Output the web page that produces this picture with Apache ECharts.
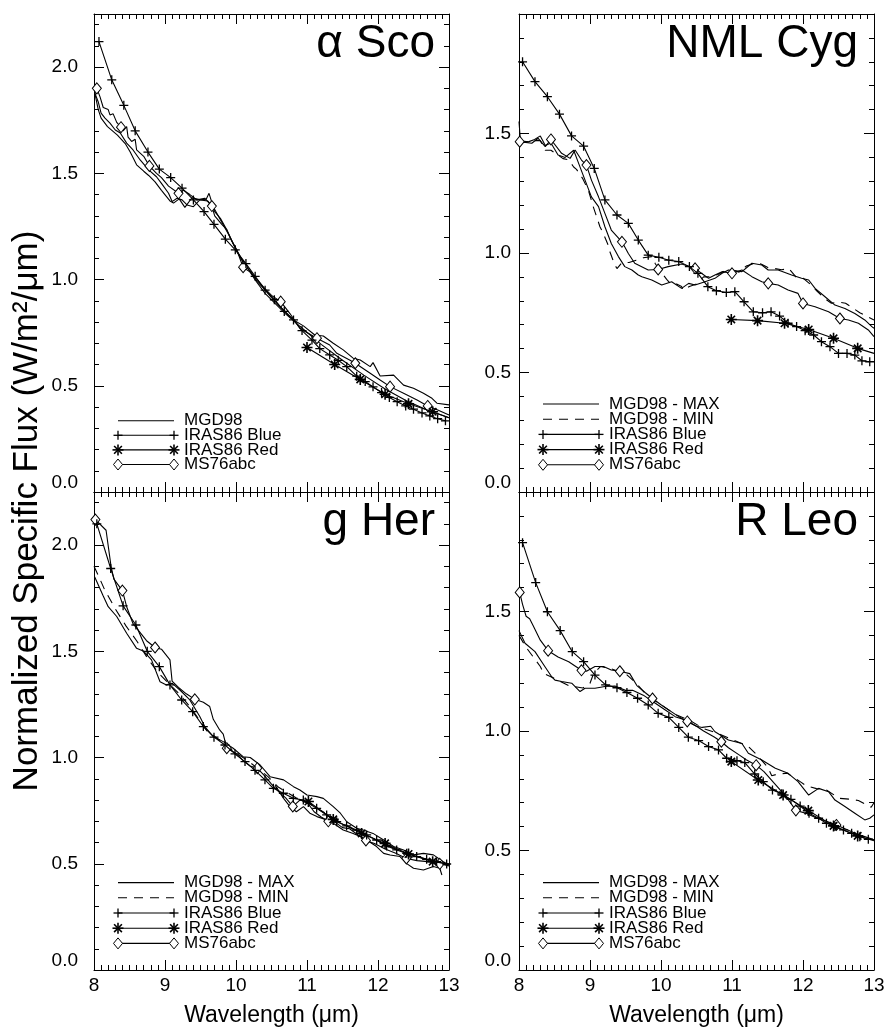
<!DOCTYPE html>
<html>
<head>
<meta charset="utf-8">
<script src="https://cdn.jsdelivr.net/npm/echarts@6/dist/echarts.min.js"></script>
<style>
html, body { margin: 0; padding: 0; background: #fff; }
#chart { width: 890px; height: 1032px; }
</style>
</head>
<body>
<div id="chart"></div>
<script>
// wavelength (um), normalized flux. On diamond lines a third value of 1 puts a marker
// on that point; on IRAS lines a third value of 0 leaves the marker off.
const scoMgd = [[8.01,1.88],[8.06,1.80],[8.1,1.76],[8.19,1.72],[8.26,1.70],[8.33,1.68],[8.44,1.64],[8.51,1.60],[8.6,1.54],[8.7,1.51],[8.77,1.49],[8.86,1.46],[8.95,1.42],[9.07,1.37],[9.12,1.36],[9.2,1.38],[9.28,1.34],[9.38,1.385],[9.5,1.375],[9.6,1.37],[9.7,1.33],[9.8,1.27],[9.9,1.21],[10.0,1.14],[10.1,1.08],[10.2,1.04],[10.3,0.99],[10.4,0.955],[10.5,0.915],[10.6,0.88],[10.67,0.857],[10.81,0.81],[10.95,0.782],[11.11,0.739],[11.23,0.734],[11.37,0.70],[11.51,0.669],[11.65,0.63],[11.75,0.621],[11.89,0.59],[11.93,0.609],[12.03,0.546],[12.22,0.55],[12.36,0.503],[12.5,0.488],[12.64,0.465],[12.76,0.441],[12.83,0.418],[13.0,0.41]];
const scoMs76b = [[8.01,1.88],[8.06,1.836],[8.1,1.783],[8.155,1.76],[8.225,1.736],[8.3,1.704],[8.37,1.69],[8.46,1.642],[8.55,1.61],[8.65,1.563],[8.77,1.516],[8.88,1.484],[8.95,1.453],[9.05,1.406],[9.10,1.367],[9.17,1.383],[9.24,1.375],[9.31,1.351],[9.4,1.343],[9.49,1.375],[9.58,1.378],[9.62,1.406],[9.70,1.32],[9.78,1.288],[9.87,1.234],[9.96,1.17],[10.06,1.108],[10.15,1.06],[10.27,0.998],[10.41,0.935],[10.55,0.888],[10.69,0.841],[10.9,0.78],[11.2,0.695],[11.5,0.62],[11.8,0.55],[12.1,0.485],[12.4,0.43],[12.7,0.385],[13.0,0.35]];
const scoMs76 = [[8.04,1.90,1],[8.085,1.86],[8.13,1.81],[8.2,1.80],[8.225,1.775],[8.27,1.78],[8.32,1.74],[8.38,1.717,1],[8.41,1.70],[8.46,1.72],[8.48,1.67],[8.53,1.65],[8.58,1.66],[8.6,1.61],[8.7,1.58],[8.78,1.535,1],[8.88,1.50],[8.95,1.48],[9.05,1.44],[9.19,1.406,1],[9.26,1.42],[9.35,1.40],[9.45,1.375],[9.56,1.383],[9.66,1.346,1],[9.70,1.30],[9.80,1.26],[9.87,1.235],[9.92,1.195],[10.01,1.14],[10.10,1.058,1],[10.2,1.035],[10.3,1.0],[10.4,0.96],[10.5,0.925],[10.63,0.896,1],[10.76,0.84],[10.9,0.77],[11.14,0.724,1],[11.32,0.692],[11.42,0.653],[11.6,0.621],[11.68,0.606,1],[11.89,0.559],[12.03,0.527],[12.17,0.496,1],[12.36,0.465],[12.55,0.433],[12.7,0.405,1],[12.85,0.385],[13.0,0.362]];
const scoBlue = [[8.07,2.12],[8.25,1.94],[8.42,1.82],[8.58,1.70],[8.76,1.60],[8.92,1.52],[9.08,1.48],[9.24,1.43],[9.40,1.375],[9.55,1.32],[9.69,1.26],[9.85,1.19],[9.99,1.14],[10.14,1.075],[10.27,1.015],[10.41,0.95],[10.54,0.905],[10.68,0.85],[10.81,0.81],[10.93,0.76],[11.07,0.715],[11.18,0.675],[11.32,0.645],[11.44,0.62],[11.56,0.59],[11.7,0.545],[11.82,0.52],[11.93,0.495],[12.05,0.468],[12.16,0.445],[12.27,0.425],[12.39,0.405],[12.5,0.39],[12.62,0.372],[12.73,0.358],[12.84,0.345],[12.95,0.335]];
const scoRed = [[11.0,0.68],[11.39,0.60],[11.75,0.53],[12.1,0.46],[12.43,0.415],[12.77,0.378],[13.0,0.35,0]];

const nmlMax = [[8.0,1.55],[8.02,1.47],[8.13,1.465],[8.22,1.475],[8.3,1.49],[8.37,1.45],[8.45,1.46],[8.55,1.41],[8.65,1.40],[8.77,1.43],[8.84,1.375],[8.93,1.305],[9.02,1.235],[9.12,1.194],[9.21,1.11],[9.3,1.04],[9.4,0.985],[9.49,0.943],[9.59,0.929],[9.68,0.908],[9.73,0.901],[9.87,0.887],[10.01,0.866],[10.15,0.88],[10.29,0.852],[10.39,0.873],[10.48,0.866],[10.62,0.88],[10.76,0.894],[10.86,0.915],[10.95,0.929],[11.14,0.922],[11.28,0.957],[11.42,0.95],[11.51,0.929],[11.65,0.929],[11.84,0.908],[11.98,0.894],[12.08,0.887],[12.17,0.852],[12.31,0.817],[12.45,0.782],[12.59,0.768],[12.73,0.747],[12.87,0.72],[12.97,0.692],[13.0,0.685]];
const nmlMin = [[8.0,1.46],[8.1,1.465],[8.2,1.47],[8.3,1.47],[8.37,1.43],[8.45,1.43],[8.55,1.41],[8.62,1.395],[8.7,1.39],[8.77,1.36],[8.81,1.35],[8.9,1.31],[8.98,1.26],[9.05,1.19],[9.14,1.11],[9.19,1.08],[9.26,1.03],[9.28,1.005],[9.35,0.95],[9.38,0.935],[9.45,0.96],[9.55,0.96],[9.65,0.97],[9.75,0.98],[9.87,0.985],[9.92,0.955],[10.0,0.92],[10.08,0.89],[10.15,0.866],[10.22,0.87],[10.29,0.86],[10.31,0.845],[10.4,0.86],[10.5,0.87],[10.6,0.9],[10.7,0.9],[10.8,0.91],[10.9,0.925],[11.0,0.93],[11.1,0.92],[11.2,0.945],[11.3,0.955],[11.4,0.955],[11.5,0.94],[11.6,0.935],[11.7,0.93],[11.8,0.935],[11.9,0.90],[12.0,0.895],[12.1,0.87],[12.2,0.84],[12.3,0.81],[12.4,0.79],[12.5,0.795],[12.6,0.79],[12.7,0.77],[12.8,0.75],[12.9,0.735],[13.0,0.72]];
const nmlMs76 = [[8.01,1.466,1],[8.18,1.459],[8.27,1.48],[8.37,1.445],[8.45,1.475,1],[8.6,1.417],[8.72,1.396],[8.79,1.431],[8.88,1.389],[8.95,1.368,1],[9.02,1.305],[9.12,1.235],[9.21,1.166],[9.3,1.096],[9.45,1.047,1],[9.54,0.998],[9.63,0.957],[9.82,0.929],[9.96,0.931,1],[10.1,0.943],[10.29,0.954],[10.48,0.936,1],[10.57,0.915],[10.67,0.894],[10.76,0.908],[10.86,0.922],[11.0,0.915,1],[11.14,0.929],[11.28,0.901],[11.42,0.88],[11.51,0.873,1],[11.65,0.866],[11.79,0.845],[11.93,0.831],[12.0,0.789,1],[12.17,0.775],[12.36,0.754],[12.52,0.726,1],[12.64,0.72],[12.78,0.706],[12.92,0.678],[13.0,0.65]];
const nmlBlue = [[8.05,1.80],[8.225,1.717],[8.40,1.654],[8.57,1.581],[8.74,1.49],[8.91,1.447],[9.06,1.354],[9.21,1.222],[9.38,1.159],[9.54,1.124],[9.68,1.054],[9.82,0.991],[9.97,0.982],[10.11,0.97],[10.25,0.964],[10.4,0.943],[10.52,0.915],[10.66,0.859],[10.78,0.842],[10.92,0.835],[11.04,0.838],[11.17,0.796],[11.3,0.754],[11.43,0.75],[11.55,0.754],[11.67,0.736],[11.79,0.706],[11.91,0.692],[12.03,0.675],[12.15,0.657],[12.26,0.629],[12.38,0.608],[12.5,0.58],[12.62,0.58],[12.73,0.573],[12.83,0.549],[12.94,0.545]];
const nmlRed = [[10.99,0.722],[11.36,0.717],[11.74,0.706],[12.08,0.68],[12.43,0.643],[12.77,0.601],[13.0,0.58,0]];

const herMax = [[8.01,1.85],[8.13,1.76],[8.2,1.71],[8.32,1.664],[8.46,1.585],[8.6,1.514],[8.7,1.50],[8.81,1.46],[8.93,1.357],[9.02,1.342],[9.1,1.35],[9.21,1.318],[9.35,1.271],[9.49,1.193],[9.56,1.146],[9.68,1.099],[9.82,1.075],[9.96,1.044],[10.1,1.004],[10.2,1.0],[10.34,0.965],[10.48,0.91],[10.67,0.895],[10.81,0.863],[10.9,0.847],[11.0,0.824],[11.14,0.816],[11.23,0.808],[11.37,0.769],[11.47,0.738],[11.56,0.698],[11.7,0.667],[11.79,0.659],[11.93,0.643],[12.08,0.612],[12.22,0.581],[12.36,0.565],[12.5,0.542],[12.64,0.549],[12.78,0.542],[12.92,0.51],[13.0,0.494]];
const herMin = [[8.0,1.90],[8.07,1.85],[8.15,1.79],[8.3,1.70],[8.45,1.62],[8.6,1.55],[8.75,1.47],[8.9,1.40],[9.05,1.35],[9.2,1.30],[9.35,1.24],[9.5,1.17],[9.6,1.12],[9.7,1.10],[9.85,1.06],[10.0,1.02],[10.15,0.99],[10.3,0.95],[10.45,0.91],[10.6,0.86],[10.75,0.83],[10.9,0.80],[11.05,0.78],[11.2,0.75],[11.35,0.72],[11.5,0.69],[11.65,0.665],[11.8,0.64],[11.95,0.615],[12.1,0.59],[12.25,0.57],[12.4,0.55],[12.55,0.535],[12.7,0.52],[12.85,0.51],[13.0,0.5]];
const herMs76b = [[10.55,0.87],[10.67,0.808],[10.76,0.769],[10.85,0.745],[10.95,0.769],[11.04,0.738],[11.14,0.722],[11.28,0.706],[11.37,0.691],[11.51,0.659],[11.65,0.643],[11.75,0.628],[11.84,0.612],[11.98,0.581],[12.08,0.549],[12.17,0.541],[12.31,0.534],[12.4,0.502],[12.5,0.479],[12.64,0.471],[12.78,0.487],[12.87,0.479],[12.9,0.447]];
const herMs76 = [[8.02,2.12,1],[8.17,2.07],[8.24,1.90],[8.28,1.84],[8.40,1.786,1],[8.46,1.71],[8.55,1.63],[8.67,1.58],[8.74,1.55],[8.86,1.518,1],[8.95,1.51],[9.07,1.46],[9.10,1.36],[9.19,1.33],[9.3,1.30],[9.42,1.274,1],[9.54,1.26],[9.63,1.24],[9.68,1.18],[9.77,1.13],[9.82,1.11],[9.87,1.044,1],[10.0,1.02],[10.1,0.985],[10.2,0.96],[10.3,0.95,1],[10.4,0.915],[10.5,0.875],[10.6,0.84],[10.7,0.81],[10.8,0.77,1],[10.9,0.80],[11.0,0.79],[11.1,0.745],[11.2,0.72],[11.3,0.70,1],[11.4,0.695],[11.5,0.67],[11.6,0.665],[11.7,0.64],[11.83,0.61,1],[11.95,0.595],[12.1,0.57],[12.25,0.55],[12.4,0.525,1],[12.55,0.515],[12.7,0.51],[12.87,0.50,1],[13.0,0.49]];
const herBlue = [[8.04,2.10],[8.235,1.89],[8.41,1.714],[8.59,1.624],[8.75,1.50],[8.92,1.428],[9.07,1.342],[9.235,1.271],[9.39,1.216],[9.54,1.146],[9.69,1.096],[9.845,1.059],[9.986,1.017],[10.127,0.981],[10.268,0.94],[10.408,0.895],[10.526,0.855],[10.667,0.832],[10.807,0.808],[10.948,0.8],[11.136,0.761],[11.277,0.73],[11.418,0.698],[11.558,0.678],[11.7,0.659],[11.84,0.636],[11.981,0.612],[12.122,0.584],[12.263,0.565],[12.404,0.549],[12.545,0.534],[12.685,0.521],[12.826,0.51],[12.967,0.499]];
const herRed = [[11.02,0.793],[11.37,0.709],[11.77,0.643],[12.1,0.596],[12.43,0.546],[12.77,0.51],[13.0,0.499,0]];

const leoMax = [[8.0,1.42],[8.085,1.367],[8.225,1.332],[8.366,1.269],[8.46,1.227],[8.507,1.213],[8.6,1.207],[8.742,1.2],[8.86,1.165],[8.93,1.179],[9.07,1.179],[9.21,1.186],[9.35,1.188],[9.5,1.17],[9.6,1.17],[9.75,1.15],[9.9,1.12],[10.05,1.09],[10.2,1.06],[10.35,1.045],[10.5,1.02],[10.58,1.015],[10.7,1.02],[10.76,0.997],[10.95,0.962],[11.14,0.948],[11.23,0.907],[11.42,0.879],[11.61,0.844],[11.79,0.823],[11.93,0.788],[12.08,0.732],[12.22,0.76],[12.36,0.746],[12.45,0.711],[12.59,0.684],[12.73,0.656],[12.87,0.628],[12.94,0.635],[13.0,0.649]];
const leoMin = [[8.0,1.40],[8.1,1.35],[8.2,1.31],[8.3,1.27],[8.35,1.24],[8.5,1.22],[8.7,1.19],[8.9,1.18],[9.0,1.20],[9.05,1.24],[9.15,1.27],[9.3,1.26],[9.5,1.24],[9.65,1.2],[9.8,1.15],[10.0,1.11],[10.2,1.07],[10.4,1.045],[10.6,1.01],[10.8,0.99],[11.0,0.965],[11.2,0.94],[11.23,0.935],[11.35,0.9],[11.5,0.85],[11.56,0.813],[11.65,0.82],[11.78,0.823],[11.9,0.80],[11.96,0.788],[12.05,0.77],[12.19,0.759],[12.33,0.753],[12.45,0.73],[12.52,0.718],[12.65,0.715],[12.78,0.709],[12.9,0.69],[12.96,0.681],[13.0,0.70]];
const leoMs76 = [[8.01,1.58,1],[8.05,1.53],[8.1,1.48],[8.15,1.47],[8.2,1.44],[8.3,1.38],[8.41,1.336,1],[8.55,1.31],[8.7,1.29],[8.8,1.27],[8.88,1.254,1],[8.95,1.25],[9.07,1.27],[9.19,1.27],[9.3,1.255],[9.42,1.25,1],[9.56,1.24],[9.66,1.19],[9.78,1.16],[9.88,1.136,1],[10.0,1.11],[10.15,1.08],[10.25,1.06],[10.37,1.04,1],[10.5,1.02],[10.6,1.0],[10.75,0.975],[10.85,0.955,1],[10.95,0.93],[11.1,0.9],[11.2,0.88],[11.34,0.857,1],[11.45,0.83],[11.6,0.78],[11.75,0.73],[11.9,0.668,1],[12.05,0.655],[12.2,0.635],[12.35,0.62],[12.47,0.607,1],[12.6,0.59],[12.75,0.57],[12.9,0.555],[13.0,0.545]];
const leoBlue = [[8.05,1.788],[8.235,1.621],[8.40,1.499],[8.58,1.42],[8.75,1.332],[8.91,1.29],[9.07,1.234],[9.22,1.193],[9.38,1.181],[9.52,1.161],[9.67,1.137],[9.82,1.109],[9.96,1.074],[10.11,1.057],[10.25,1.015],[10.385,0.974],[10.53,0.96],[10.67,0.935],[10.81,0.921],[10.925,0.886],[11.07,0.876],[11.18,0.868],[11.32,0.82],[11.44,0.788],[11.57,0.753],[11.7,0.737],[11.83,0.714],[11.96,0.686],[12.085,0.656],[12.22,0.635],[12.33,0.614],[12.45,0.6],[12.57,0.586],[12.685,0.572],[12.8,0.558],[12.92,0.547]];
const leoRed = [[10.99,0.872],[11.37,0.795],[11.72,0.732],[12.075,0.667],[12.43,0.603],[12.77,0.561],[13.0,0.541,0]];

const yTitle = 'Normalized Specific Flux (W/m\u00b2/\u03bcm)';
const xTitle = 'Wavelength (\u03bcm)';

const FONT = '"Liberation Sans", Arial, Helvetica, sans-serif';
const PLUS = 'path://M0,5L10,5M5,0L5,10';
const STAR = 'path://M0,5L10,5M5,0L5,10M1.6,1.6L8.4,8.4M1.6,8.4L8.4,1.6';
const DASH = [9, 7];

const maxMin = [['MGD98 - MAX', 'solid'], ['MGD98 - MIN', 'dashed'], ['IRAS86 Blue', 'plus'], ['IRAS86 Red', 'star'], ['MS76abc', 'diamond']];

const panels = [
    { title: '\u03b1 Sco', yMax: 2.25, legendY: 420.7, legendStep: 14.6,
      lines: [[scoMgd, 'solid'], [scoMs76b, 'solid'], [scoMs76, 'diamond'], [scoRed, 'star'], [scoBlue, 'plus']],
      legend: [['MGD98', 'solid'], ['IRAS86 Blue', 'plus'], ['IRAS86 Red', 'star'], ['MS76abc', 'diamond']] },
    { title: 'NML Cyg', yMax: 2.0, legendY: 404, legendStep: 15.2,
      lines: [[nmlMax, 'solid'], [nmlMin, 'dashed'], [nmlMs76, 'diamond'], [nmlRed, 'star'], [nmlBlue, 'plus']],
      legend: maxMin },
    { title: 'g Her', yMax: 2.25, legendY: 882.6, legendStep: 15.2,
      lines: [[herMax, 'solid'], [herMin, 'dashed'], [herMs76b, 'solid'], [herMs76, 'diamond'], [herRed, 'star'], [herBlue, 'plus']],
      legend: maxMin },
    { title: 'R Leo', yMax: 2.0, legendY: 882.6, legendStep: 15.2,
      lines: [[leoMax, 'solid'], [leoMin, 'dashed'], [leoMs76, 'diamond'], [leoRed, 'star'], [leoBlue, 'plus']],
      legend: maxMin }
];

const STYLES = {
    solid:   { symbol: 'none' },
    dashed:  { symbol: 'none', dash: DASH },
    plus:    { symbol: PLUS, size: 9, item: { color: '#000', borderColor: '#000', borderWidth: 1.3 }, z: 5 },
    star:    { symbol: STAR, size: 11, item: { color: '#000', borderColor: '#000', borderWidth: 1.6 }, z: 6 },
    diamond: { symbol: 'diamond', size: [9, 11], item: { color: '#fff', borderColor: '#000', borderWidth: 1 }, z: 4 }
};

const black = { color: '#000', width: 1 };
const labelStyle = { fontSize: 19, color: '#000', fontFamily: FONT };

const xAxisFor = (gi, pos, labels) => ({
    gridIndex: gi, type: 'value', position: pos, min: 8, max: 13, interval: 1,
    axisLine: { show: true, onZero: false, lineStyle: black },
    axisTick: { show: true, inside: true, length: 10, lineStyle: black },
    minorTick: { show: true, splitNumber: 10, length: 5, lineStyle: black },
    splitLine: { show: false }, minorSplitLine: { show: false },
    axisLabel: labels ? { show: true, margin: 6, ...labelStyle } : { show: false },
    name: labels ? xTitle : '', nameLocation: 'middle', nameGap: 34,
    nameTextStyle: { fontSize: 23, color: '#000', fontFamily: FONT }
});

const yAxisFor = (gi, pos, max, step, len, labelMargin) => ({
    gridIndex: gi, type: 'value', position: pos, min: 0, max, interval: step,
    axisLine: { show: step === 0.5, onZero: false, lineStyle: black },
    axisTick: { show: true, inside: true, length: len, lineStyle: black },
    splitLine: { show: false },
    axisLabel: labelMargin ? {
        show: true, margin: labelMargin, ...labelStyle,
        formatter: (v) => {
            // the panel top carries no label, only whole half-steps are labelled
            if (v > max - 1e-6 || Math.abs(v * 2 - Math.round(v * 2)) > 1e-6) return '';
            return v === 0 ? '{z|0.0}' : v.toFixed(1);
        },
        rich: { z: { ...labelStyle, padding: [0, 0, 18, 0] } }
    } : { show: false }
});

const grids = [], xAxes = [], yAxes = [], series = [], graphics = [];

const seg = (x1, y1, x2, y2, w) => ({ type: 'line', shape: { x1, y1, x2, y2 }, style: { stroke: '#000', lineWidth: w }, z: 10 });

const legendMarker = (kind, cx, cy) => {
    if (kind === 'plus') return [seg(cx - 4.5, cy, cx + 4.5, cy, 1.3), seg(cx, cy - 4.5, cx, cy + 4.5, 1.3)];
    if (kind === 'star') return [seg(cx - 5.5, cy, cx + 5.5, cy, 1.6), seg(cx, cy - 5.5, cx, cy + 5.5, 1.6),
        seg(cx - 3.9, cy - 3.9, cx + 3.9, cy + 3.9, 1.6), seg(cx - 3.9, cy + 3.9, cx + 3.9, cy - 3.9, 1.6)];
    if (kind === 'diamond') return [{ type: 'polygon', shape: { points: [[cx, cy - 5.5], [cx + 4.5, cy], [cx, cy + 5.5], [cx - 4.5, cy]] },
        style: { fill: '#fff', stroke: '#000', lineWidth: 1 }, z: 11 }];
    return [];
};

panels.forEach((p, gi) => {
    const col = gi % 2, row = Math.floor(gi / 2);
    const left = col ? 519 : 94, top = row ? 492 : 14;
    grids.push({ left, top, width: 355, height: 478, containLabel: false, outerBoundsMode: 'none' });

    xAxes.push(xAxisFor(gi, 'bottom', row === 1), xAxisFor(gi, 'top', false));
    const lm = col ? 8 : 16;
    yAxes.push(yAxisFor(gi, 'left', p.yMax, 0.5, 10, lm), yAxisFor(gi, 'left', p.yMax, 0.1, 5, 0),
               yAxisFor(gi, 'right', p.yMax, 0.5, 10, 0), yAxisFor(gi, 'right', p.yMax, 0.1, 5, 0));

    p.lines.forEach(([pts, kind]) => {
        const st = STYLES[kind];
        const data = pts.map((q) => {
            const mark = kind === 'diamond' ? q[2] === 1 : (kind === 'plus' || kind === 'star') && q[2] !== 0;
            return mark ? [q[0], q[1]] : { value: [q[0], q[1]], symbol: 'none' };
        });
        series.push({
            type: 'line', xAxisIndex: gi * 2, yAxisIndex: gi * 4, data,
            symbol: st.symbol, symbolSize: st.size || 0, showSymbol: st.symbol !== 'none',
            itemStyle: st.item || { color: '#000' },
            lineStyle: { color: '#000', width: 1.1, type: st.dash || 'solid' },
            emphasis: { disabled: true }, silent: true, animation: false, clip: true, z: st.z || 3
        });
    });

    // panel label, top right
    graphics.push({
        type: 'text', x: left + 355 - (col ? 16 : 14), y: top + 30,
        style: { text: p.title, font: '46px ' + FONT, fill: '#000', textAlign: 'right', align: 'right',
                 textVerticalAlign: 'middle', verticalAlign: 'middle' }
    });

    // legend, bottom left
    const x1 = left + 24, x2 = left + 80, tx = left + 90;
    p.legend.forEach(([label, kind], k) => {
        const y = p.legendY + k * p.legendStep;
        graphics.push({ type: 'line', shape: { x1, y1: y, x2, y2: y },
            style: { stroke: '#000', lineWidth: 1.1, lineDash: kind === 'dashed' ? DASH : null }, z: 9 });
        graphics.push(...legendMarker(kind, x1, y), ...legendMarker(kind, x2, y));
        graphics.push({ type: 'text', x: tx, y,
            style: { text: label, font: '17px ' + FONT, fill: '#000', textAlign: 'left', align: 'left',
                     textVerticalAlign: 'middle', verticalAlign: 'middle' } });
    });
});

graphics.push({
    type: 'text', x: 27, y: 511, rotation: Math.PI / 2,
    style: { text: yTitle, font: '35px ' + FONT, fill: '#000', textAlign: 'center', align: 'center',
             textVerticalAlign: 'middle', verticalAlign: 'middle' }
});

const chart = echarts.init(document.getElementById('chart'), null, { renderer: 'canvas' });
chart.setOption({
    backgroundColor: '#fff',
    animation: false,
    grid: grids,
    xAxis: xAxes,
    yAxis: yAxes,
    series,
    graphic: { elements: graphics }
});
</script>
</body>
</html>
